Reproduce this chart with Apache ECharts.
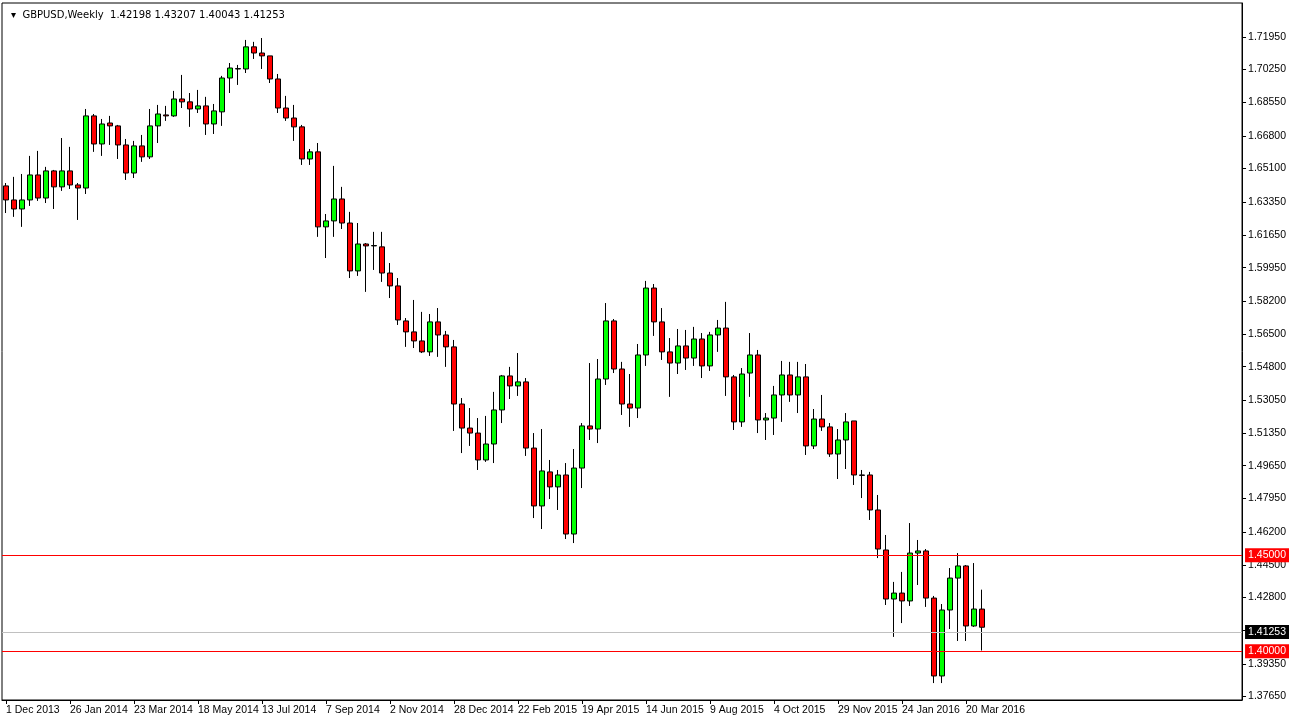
<!DOCTYPE html>
<html><head><meta charset="utf-8">
<script src="https://cdn.jsdelivr.net/npm/echarts@6/dist/echarts.min.js"></script>
<style>html,body{margin:0;padding:0;background:#fff}#c{width:1289px;height:723px}</style>
</head><body><div id="c"></div>
<script>
const symbolName = 'GBPUSD,Weekly';
const headerValues = ['1.42198', '1.43207', '1.40043', '1.41253'];
const startDate = '2013-12-01';
const totalSlots = 155;
const opens = [1.6420,1.6347,1.6300,1.6347,1.6477,1.6357,1.6498,1.6415,1.6498,1.6425,
1.6409,1.6784,1.6638,1.6747,1.6732,1.6633,1.6487,1.6628,1.6571,1.6732,
1.6789,1.6784,1.6872,1.6857,1.6820,1.6836,1.6742,1.6805,1.6981,1.7028,
1.7028,1.7143,1.7111,1.7096,1.6976,1.6825,1.6773,1.6727,1.6560,1.6597,
1.6207,1.6238,1.6352,1.6227,1.5978,1.6118,1.6108,1.6103,1.5967,1.5900,
1.5718,1.5661,1.5614,1.5557,1.5713,1.5645,1.5583,1.5286,1.5161,1.5135,
1.4995,1.5078,1.5255,1.5432,1.5380,1.5401,1.5057,1.4756,1.4933,1.4855,
1.4917,1.4610,1.4953,1.5172,1.5156,1.5416,1.5718,1.5468,1.5286,1.5265,
1.5541,1.5889,1.5713,1.5557,1.5499,1.5588,1.5525,1.5624,1.5484,1.5645,
1.5681,1.5427,1.5193,1.5447,1.5541,1.5203,1.5213,1.5333,1.5437,1.5333,
1.5427,1.5068,1.5208,1.5167,1.5026,1.5099,1.5198,1.4917,1.4917,1.4735,
1.4527,1.4272,1.4303,1.4262,1.4511,1.4522,1.4277,1.3872,1.4215,1.4381,
1.4444,1.4132,1.42198];
const closes = [1.6347,1.6300,1.6347,1.6477,1.6357,1.6498,1.6415,1.6498,1.6425,1.6409,
1.6784,1.6638,1.6742,1.6732,1.6633,1.6487,1.6628,1.6571,1.6732,1.6794,
1.6784,1.6872,1.6857,1.6820,1.6836,1.6742,1.6810,1.6981,1.7033,1.7030,
1.7143,1.7111,1.7096,1.6976,1.6825,1.6773,1.6727,1.6560,1.6597,1.6207,
1.6238,1.6352,1.6227,1.5978,1.6118,1.6108,1.6110,1.5967,1.5900,1.5723,
1.5661,1.5614,1.5557,1.5713,1.5645,1.5583,1.5286,1.5161,1.5135,1.4995,
1.5078,1.5255,1.5432,1.5380,1.5401,1.5057,1.4756,1.4938,1.4855,1.4917,
1.4610,1.4953,1.5172,1.5156,1.5416,1.5718,1.5468,1.5286,1.5265,1.5541,
1.5889,1.5713,1.5557,1.5499,1.5588,1.5525,1.5624,1.5484,1.5645,1.5681,
1.5427,1.5193,1.5442,1.5541,1.5203,1.5213,1.5333,1.5437,1.5333,1.5427,
1.5068,1.5208,1.5167,1.5026,1.5099,1.5193,1.4917,1.4915,1.4735,1.4532,
1.4272,1.4303,1.4262,1.4511,1.4522,1.4277,1.3872,1.4215,1.4381,1.4444,
1.4132,1.4220,1.41253];
const highs = [1.6435,1.6467,1.6482,1.6576,1.6602,1.6519,1.6503,1.6669,1.6623,1.6435,
1.6820,1.6794,1.6768,1.6784,1.6737,1.6664,1.6654,1.6685,1.6820,1.6841,
1.6836,1.6914,1.6997,1.6903,1.6919,1.6883,1.6846,1.6992,1.7059,1.7049,
1.7179,1.7169,1.7189,1.7096,1.7002,1.6888,1.6841,1.6737,1.6612,1.6643,
1.6274,1.6524,1.6415,1.6285,1.6227,1.6123,1.6181,1.6181,1.6019,1.5941,
1.5733,1.5827,1.5765,1.5754,1.5785,1.5666,1.5619,1.5317,1.5265,1.5213,
1.5224,1.5349,1.5437,1.5479,1.5551,1.5421,1.5135,1.5156,1.4995,1.4943,
1.4979,1.5052,1.5187,1.5499,1.5520,1.5811,1.5728,1.5505,1.5442,1.5598,
1.5926,1.5910,1.5785,1.5629,1.5676,1.5671,1.5687,1.5655,1.5661,1.5723,
1.5817,1.5437,1.5473,1.5655,1.5567,1.5239,1.5380,1.5510,1.5505,1.5505,
1.5494,1.5260,1.5333,1.5187,1.5156,1.5239,1.5198,1.4943,1.4933,1.4813,
1.4605,1.4361,1.4413,1.4667,1.4579,1.4532,1.4288,1.4246,1.4433,1.4511,
1.4449,1.4459,1.43207];
const lows = [1.6279,1.6259,1.6207,1.6316,1.6342,1.6331,1.6300,1.6394,1.6404,1.6243,
1.6378,1.6597,1.6576,1.6633,1.6560,1.6451,1.6461,1.6545,1.6560,1.6643,
1.6758,1.6779,1.6825,1.6727,1.6799,1.6685,1.6690,1.6732,1.6903,1.6945,
1.7007,1.7080,1.7028,1.6955,1.6799,1.6758,1.6654,1.6529,1.6529,1.6155,
1.6045,1.6155,1.6196,1.5941,1.5952,1.5869,1.5983,1.5921,1.5837,1.5697,
1.5583,1.5577,1.5551,1.5536,1.5531,1.5479,1.5146,1.5031,1.5068,1.4943,
1.4985,1.4979,1.5187,1.5312,1.5328,1.5016,1.4693,1.4636,1.4792,1.4735,
1.4584,1.4563,1.4849,1.5099,1.5083,1.5385,1.5447,1.5229,1.5167,1.5213,
1.5484,1.5640,1.5515,1.5323,1.5442,1.5463,1.5484,1.5421,1.5458,1.5557,
1.5328,1.5151,1.5167,1.5323,1.5135,1.5099,1.5125,1.5193,1.5297,1.5239,
1.5021,1.5052,1.5146,1.5011,1.4896,1.4948,1.4865,1.4797,1.4683,1.4485,
1.4241,1.4075,1.4147,1.4236,1.4345,1.4231,1.3835,1.3835,1.4116,1.4054,
1.4054,1.4127,1.40043];
const yTicks = [1.71950,1.70250,1.68550,1.66800,1.65100,1.63350,1.61650,1.59950,1.58200,1.56500,1.54800,1.53050,1.51350,1.49650,1.47950,1.46200,1.44500,1.42800,1.41100,1.39350,1.37650];
const levelLines = [1.45000, 1.40000];
const lastPrice = 1.41253;

const MON = ['Jan','Feb','Mar','Apr','May','Jun','Jul','Aug','Sep','Oct','Nov','Dec'];
const categories = [];
{ const d0 = new Date(startDate + 'T00:00:00Z');
  for (let i = 0; i < totalSlots; i++) {
    const d = new Date(d0.getTime() + i * 7 * 86400000);
    categories.push(d.getUTCDate() + ' ' + MON[d.getUTCMonth()] + ' ' + d.getUTCFullYear());
  } }
const nBars = opens.length;
const ohlc = categories.map((c, i) => i < nBars ? [opens[i], closes[i], lows[i], highs[i]] : '-');
const showTick = (i) => i % 8 === 0 && i < nBars;

const FONT = 'Liberation Sans';
const chart = echarts.init(document.getElementById('c'), null, {renderer: 'canvas'});
chart.setOption({
  animation: false,
  backgroundColor: '#fff',
  title: {
    text: '▾  ' + symbolName + '  ' + headerValues.join(' '),
    left: 6, top: 5,
    textStyle: {fontFamily: 'DejaVu Sans', fontSize: 10, fontWeight: 'normal', color: '#000'}
  },
  grid: {left: 2, right: 45, top: 3, bottom: 23, show: true, borderColor: '#000', borderWidth: 1},
  xAxis: {
    type: 'category', data: categories, boundaryGap: true,
    axisLine: {show: true, lineStyle: {color: '#000'}},
    axisTick: {show: true, interval: showTick, alignWithLabel: true, length: 4, lineStyle: {color: '#000'}},
    axisLabel: {interval: showTick, align: 'left', margin: 5, fontFamily: FONT, fontSize: 10.5, color: '#000'},
    splitLine: {show: false}
  },
  yAxis: {
    type: 'value', position: 'right', scale: true,
    min: 1.3747, max: 1.7371,
    axisLine: {show: true, lineStyle: {color: '#000'}},
    axisTick: {show: true, length: 4, customValues: yTicks, lineStyle: {color: '#000'}},
    axisLabel: {customValues: yTicks, margin: 6, fontFamily: FONT, fontSize: 10.5, color: '#000',
      formatter: v => v.toFixed(5)},
    splitLine: {show: false}
  },
  series: [{
    type: 'candlestick',
    data: ohlc,
    barWidth: 6,
    itemStyle: {color: '#00ff00', color0: '#ff0000', borderColor: '#000', borderColor0: '#000', borderWidth: 1},
    markLine: {
      symbol: 'none', silent: true, animation: false,
      data: [
        ...levelLines.map(v => ({yAxis: v, lineStyle: {color: '#ff0000', type: 'solid', width: 1},
          label: {show: true, position: 'end', distance: 3, formatter: v.toFixed(5), color: '#fff', backgroundColor: '#ff0000',
            padding: [2, 3, 1, 3], fontFamily: FONT, fontSize: 10.5}})),
        {yAxis: lastPrice, lineStyle: {color: '#c0c0c0', type: 'solid', width: 1},
          label: {show: true, position: 'end', distance: 3, formatter: lastPrice.toFixed(5), color: '#fff', backgroundColor: '#000',
            padding: [2, 3, 1, 3], fontFamily: FONT, fontSize: 10.5}}
      ]
    }
  }]
});
</script></body></html>
